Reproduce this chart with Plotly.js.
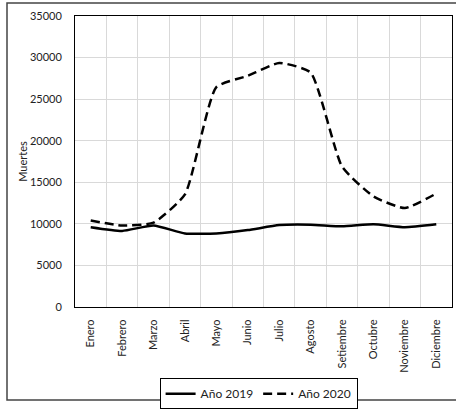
<!DOCTYPE html>
<html>
<head>
<meta charset="utf-8">
<script src="https://cdn.plot.ly/plotly-3.0.1.min.js"></script>
<style>
  html, body { margin: 0; padding: 0; background: #fff; }
  #chart { width: 456px; height: 413px; }
</style>
</head>
<body>
<div id="chart"></div>
<script>
const months = ["Enero", "Febrero", "Marzo", "Abril", "Mayo", "Junio", "Julio", "Agosto", "Setiembre", "Octubre", "Noviembre", "Diciembre"];
const deaths2019 = [9600, 9150, 9800, 8850, 8850, 9250, 9850, 9900, 9700, 9950, 9600, 9950];
const deaths2020 = [10400, 9800, 10150, 13550, 26450, 27800, 29350, 28200, 16900, 13300, 11900, 13650];
const seriesNames = ["Año 2019", "Año 2020"];
const yTitle = "Muertes";

const fontFam = "Lato, 'Open Sans', sans-serif";

const traces = [
  {
    x: months, y: deaths2019, name: seriesNames[0], type: "scatter", mode: "lines",
    line: { color: "#000000", width: 2.5, shape: "spline", smoothing: 0.5 }
  },
  {
    x: months, y: deaths2020, name: seriesNames[1], type: "scatter", mode: "lines",
    line: { color: "#000000", width: 2.5, dash: "9px,5px", shape: "spline", smoothing: 0.5 }
  }
];

const layout = {
  width: 456, height: 413,
  margin: { l: 75, r: 4, t: 16, b: 97 },
  paper_bgcolor: "#ffffff",
  plot_bgcolor: "#ffffff",
  font: { family: fontFam, size: 11, color: "#222" },
  showlegend: true,
  legend: {
    orientation: "h", x: 0.487, xanchor: "center", y: -0.245, yanchor: "top",
    bordercolor: "#000", borderwidth: 1, font: { size: 12, color: "#222" },
    traceorder: "normal", itemwidth: 30, tracegroupgap: 0
  },
  xaxis: {
    type: "category",
    range: [-0.5, months.length - 0.5],
    tickangle: -90,
    tickson: "boundaries",
    ticks: "", showgrid: true, gridcolor: "#d9d9d9", gridwidth: 1,
    showline: true, linecolor: "#000", linewidth: 1, mirror: true,
    ticklabelstandoff: 7,
    tickfont: { size: 11, color: "#222" }
  },
  yaxis: {
    range: [0, 35000], dtick: 5000, tick0: 0, tickformat: "d",
    showgrid: true, gridcolor: "#d9d9d9", gridwidth: 1,
    showline: true, linecolor: "#000", linewidth: 1, mirror: true,
    zeroline: false, ticks: "", ticklen: 0,
    ticklabelstandoff: 10,
    tickfont: { size: 11, color: "#222" },
    title: { text: yTitle, font: { size: 11, color: "#222" }, standoff: 0 }
  },
  shapes: [
    {
      type: "rect", xref: "paper", yref: "paper",
      x0: (7 - 75) / 377, x1: (462 - 75) / 377,
      y0: (316 - 412) / 300, y1: (316 - 2.5) / 300,
      line: { color: "#444", width: 1.5 }, fillcolor: "rgba(0,0,0,0)", layer: "below"
    }
  ]
};

Plotly.newPlot("chart", traces, layout, { displayModeBar: false, staticPlot: true });
</script>
</body>
</html>
